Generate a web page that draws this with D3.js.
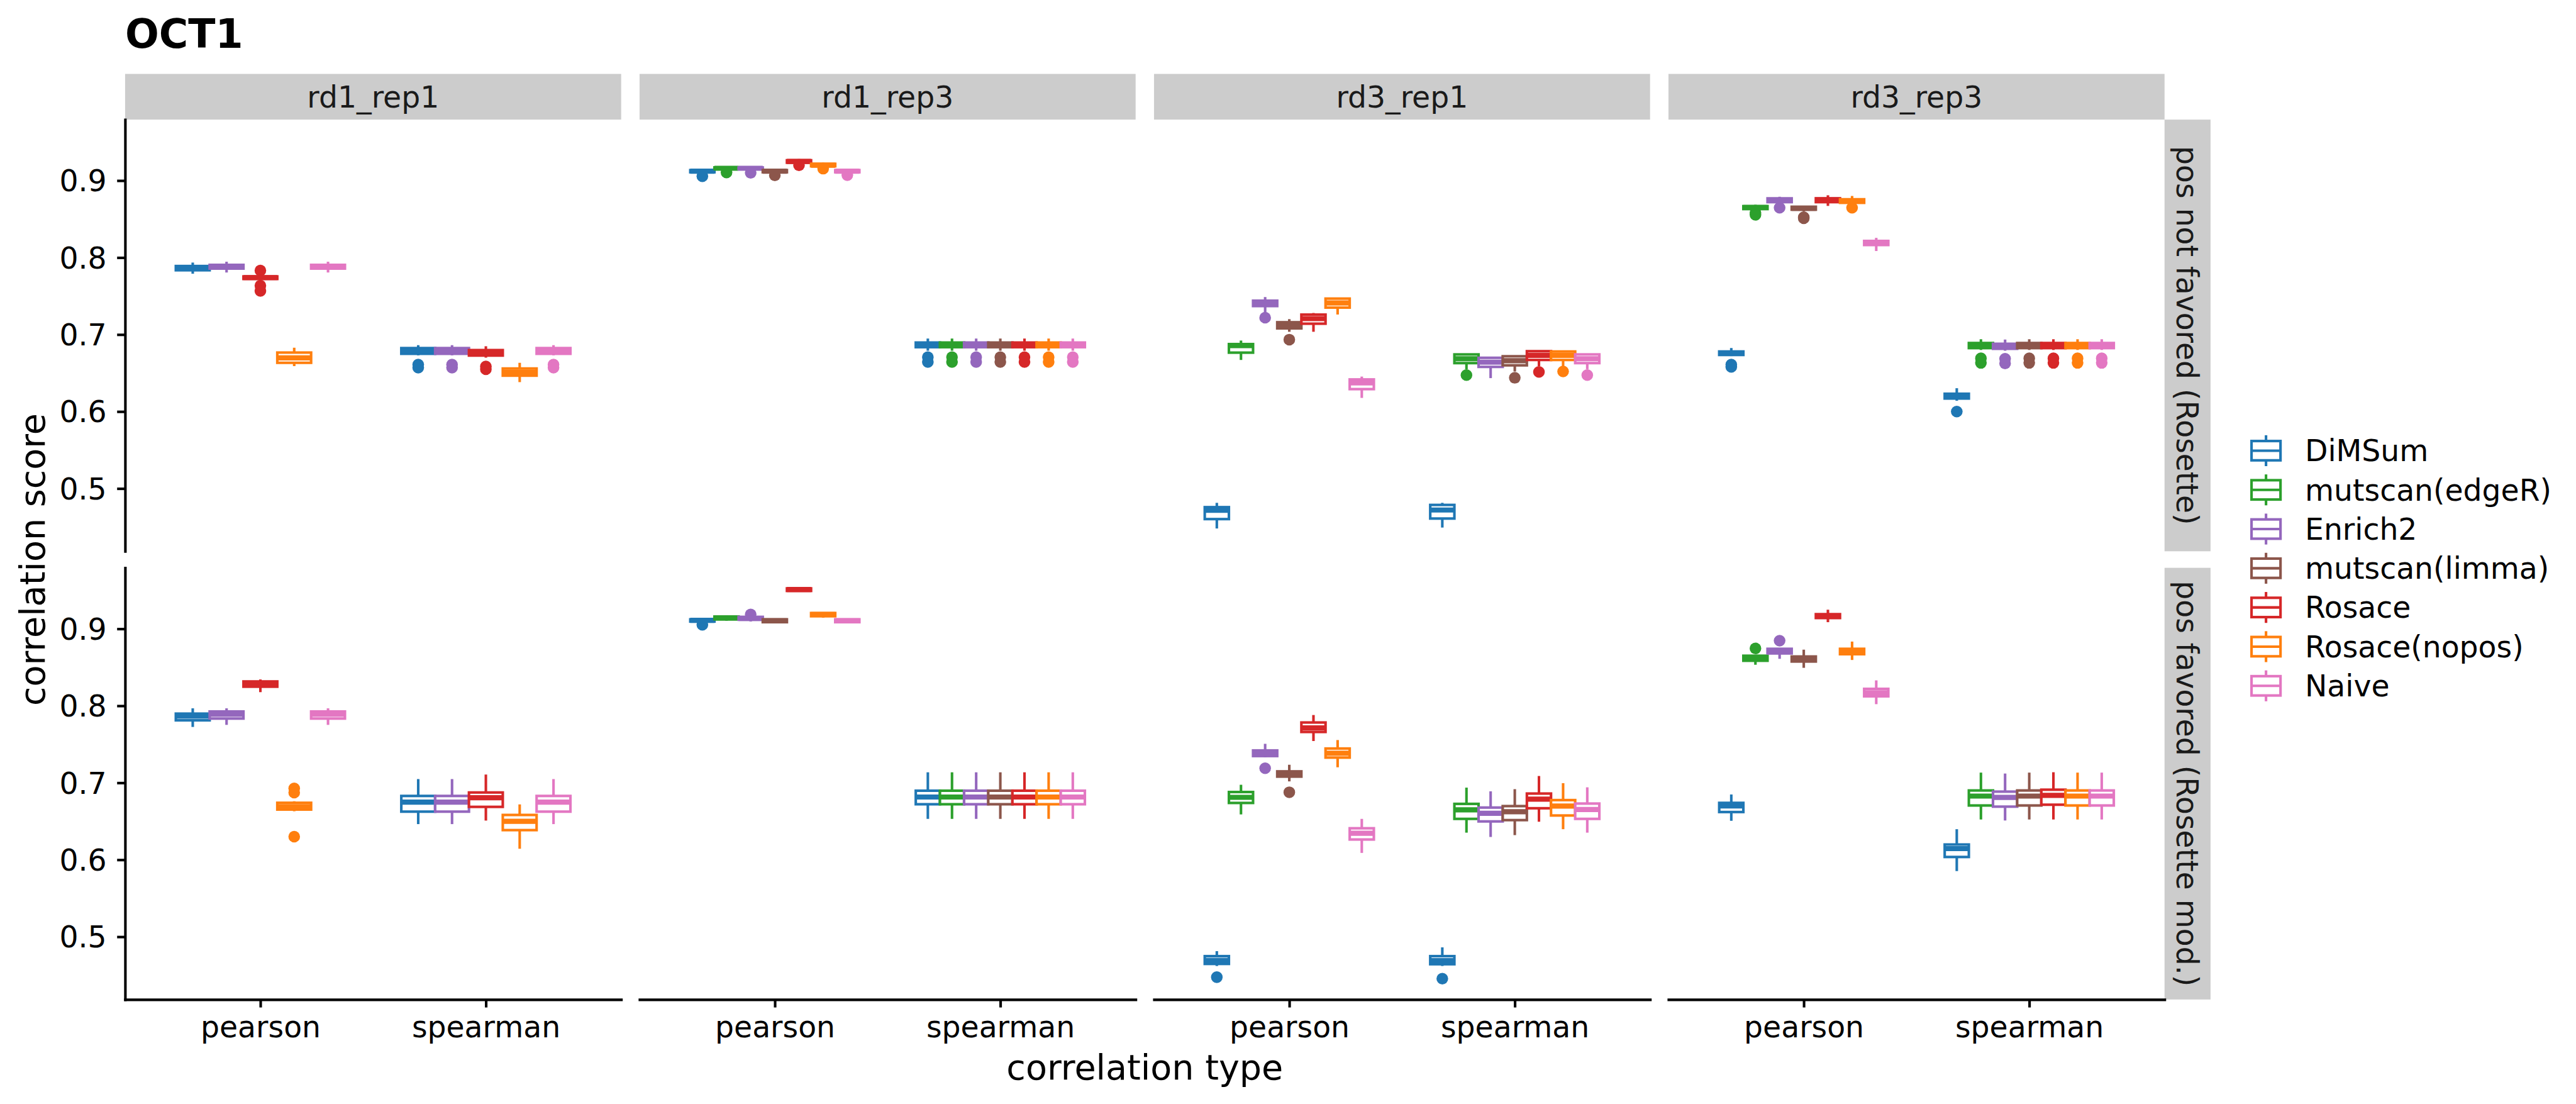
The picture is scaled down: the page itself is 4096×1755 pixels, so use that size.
<!DOCTYPE html>
<html>
<head>
<meta charset="utf-8">
<script src="https://cdn.jsdelivr.net/npm/d3@7"></script>
<style>
html,body{margin:0;padding:0;background:#ffffff;}
svg{display:block;}
</style>
</head>
<body>
<script>
// ---------------- DATA ----------------
const chartTitle = "OCT1";
const xAxisTitle = "correlation type";
const yAxisTitle = "correlation score";
const methods = ["DiMSum","mutscan(edgeR)","Enrich2","mutscan(limma)","Rosace","Rosace(nopos)","Naive"];
const methodColors = ["#1f77b4","#2ca02c","#9467bd","#8c564b","#d62728","#ff7f0e","#e377c2"];
const replicates = ["rd1_rep1","rd1_rep3","rd3_rep1","rd3_rep3"];
const scenarios = ["pos not favored (Rosette)","pos favored (Rosette mod.)"];
const corrTypes = ["pearson","spearman"];
const yTicks = [0.5,0.6,0.7,0.8,0.9];
const yLimits = [0.4185, 0.9792];

// rows: [correlation type, method, lower whisker, Q1, median, Q3, upper whisker, outliers]
const notFav_rd1_rep1 = [
  ["pearson","DiMSum",0.779,0.7835,0.786,0.789,0.7935,[]],
  ["pearson","Enrich2",0.7806,0.7857,0.788,0.7905,0.7946,[]],
  ["pearson","Rosace",0.769,0.7722,0.774,0.7755,0.778,[0.7832,0.7635,0.7567]],
  ["pearson","Rosace(nopos)",0.659,0.6633,0.6697,0.6766,0.6829,[]],
  ["pearson","Naive",0.7806,0.7857,0.788,0.7905,0.7946,[]],
  ["spearman","DiMSum",0.673,0.675,0.679,0.6824,0.6862,[0.661,0.657]],
  ["spearman","Enrich2",0.673,0.675,0.679,0.6824,0.6862,[0.661,0.657]],
  ["spearman","Rosace",0.670,0.6727,0.676,0.6798,0.6848,[0.6585,0.655]],
  ["spearman","Rosace(nopos)",0.6382,0.6466,0.651,0.6559,0.6633,[]],
  ["spearman","Naive",0.673,0.675,0.679,0.6824,0.6862,[0.661,0.657]]
];
const notFav_rd1_rep3 = [
  ["pearson","DiMSum",0.910,0.9108,0.9122,0.9136,0.9155,[0.9056]],
  ["pearson","mutscan(edgeR)",0.9135,0.915,0.916,0.9171,0.9185,[0.9105]],
  ["pearson","Enrich2",0.913,0.9148,0.916,0.917,0.918,[0.910]],
  ["pearson","mutscan(limma)",0.910,0.9108,0.9122,0.9136,0.915,[0.9068]],
  ["pearson","Rosace",0.922,0.9232,0.9248,0.9264,0.928,[0.9199]],
  ["pearson","Rosace(nopos)",0.9175,0.9186,0.920,0.9218,0.9232,[0.9155]],
  ["pearson","Naive",0.910,0.9108,0.9122,0.9136,0.915,[0.9071]],
  ["spearman","DiMSum",0.679,0.6836,0.687,0.6896,0.6948,[0.6706,0.6643]],
  ["spearman","mutscan(edgeR)",0.679,0.6836,0.687,0.6896,0.6948,[0.6706,0.6643]],
  ["spearman","Enrich2",0.679,0.6836,0.687,0.6896,0.6948,[0.6706,0.6643]],
  ["spearman","mutscan(limma)",0.679,0.6836,0.687,0.6896,0.6948,[0.6706,0.6643]],
  ["spearman","Rosace",0.679,0.6836,0.687,0.6896,0.6948,[0.6706,0.6643]],
  ["spearman","Rosace(nopos)",0.679,0.6836,0.687,0.6896,0.6948,[0.6706,0.6643]],
  ["spearman","Naive",0.679,0.6836,0.687,0.6896,0.6948,[0.6706,0.6643]]
];
const notFav_rd3_rep1 = [
  ["pearson","DiMSum",0.4481,0.4603,0.4717,0.4758,0.4814,[]],
  ["pearson","mutscan(edgeR)",0.667,0.6765,0.6857,0.6876,0.6922,[]],
  ["pearson","Enrich2",0.728,0.737,0.741,0.744,0.7487,[0.7219]],
  ["pearson","mutscan(limma)",0.7036,0.708,0.712,0.716,0.720,[0.6934]],
  ["pearson","Rosace",0.7036,0.7141,0.7207,0.7259,0.728,[]],
  ["pearson","Rosace(nopos)",0.726,0.735,0.741,0.7467,0.748,[]],
  ["pearson","Naive",0.6177,0.6291,0.6372,0.6417,0.6454,[]],
  ["spearman","DiMSum",0.4493,0.461,0.4721,0.4787,0.4814,[]],
  ["spearman","mutscan(edgeR)",0.6548,0.6629,0.6686,0.6742,0.675,[0.6474]],
  ["spearman","Enrich2",0.6434,0.658,0.6641,0.6698,0.6705,[]],
  ["spearman","mutscan(limma)",0.652,0.660,0.6661,0.6718,0.6725,[0.6438]],
  ["spearman","Rosace",0.6588,0.667,0.673,0.6784,0.679,[0.6515]],
  ["spearman","Rosace(nopos)",0.659,0.667,0.673,0.678,0.679,[0.652]],
  ["spearman","Naive",0.655,0.6629,0.6686,0.6742,0.675,[0.6474]]
];
const notFav_rd3_rep3 = [
  ["pearson","DiMSum",0.672,0.6735,0.676,0.678,0.6825,[0.661,0.658]],
  ["pearson","mutscan(edgeR)",0.8615,0.863,0.865,0.8668,0.8686,[0.8583,0.8556]],
  ["pearson","Enrich2",0.8695,0.872,0.8745,0.8769,0.879,[0.8647]],
  ["pearson","mutscan(limma)",0.860,0.8622,0.864,0.866,0.867,[0.8525,0.851]],
  ["pearson","Rosace",0.8671,0.872,0.8745,0.877,0.8809,[]],
  ["pearson","Rosace(nopos)",0.868,0.8711,0.8735,0.8757,0.880,[0.8647]],
  ["pearson","Naive",0.8085,0.8163,0.819,0.8216,0.8256,[]],
  ["spearman","DiMSum",0.614,0.6169,0.620,0.6231,0.6303,[0.600]],
  ["spearman","mutscan(edgeR)",0.680,0.6824,0.686,0.689,0.6939,[0.6691,0.6632]],
  ["spearman","Enrich2",0.679,0.6815,0.685,0.688,0.6935,[0.6685,0.6625]],
  ["spearman","mutscan(limma)",0.680,0.6824,0.686,0.689,0.6939,[0.6691,0.6632]],
  ["spearman","Rosace",0.680,0.6824,0.686,0.689,0.6939,[0.6691,0.6632]],
  ["spearman","Rosace(nopos)",0.680,0.6824,0.686,0.689,0.6939,[0.6691,0.6632]],
  ["spearman","Naive",0.680,0.6824,0.686,0.689,0.6939,[0.6691,0.6632]]
];
const fav_rd1_rep1 = [
  ["pearson","DiMSum",0.7725,0.7811,0.7866,0.7898,0.7967,[]],
  ["pearson","Enrich2",0.7752,0.7834,0.789,0.7926,0.7967,[]],
  ["pearson","Rosace",0.8177,0.8248,0.828,0.8316,0.8342,[]],
  ["pearson","Rosace(nopos)",0.663,0.6652,0.669,0.674,0.676,[0.6927,0.6872,0.630]],
  ["pearson","Naive",0.7752,0.7834,0.789,0.7926,0.7967,[]],
  ["spearman","DiMSum",0.6463,0.6625,0.6749,0.6829,0.7048,[]],
  ["spearman","Enrich2",0.6463,0.6625,0.6749,0.6829,0.7048,[]],
  ["spearman","Rosace",0.6509,0.6687,0.6806,0.6874,0.7107,[]],
  ["spearman","Rosace(nopos)",0.6143,0.6385,0.650,0.6582,0.6719,[]],
  ["spearman","Naive",0.6463,0.6625,0.6749,0.6829,0.7048,[]]
];
const fav_rd1_rep3 = [
  ["pearson","DiMSum",0.909,0.9094,0.911,0.9123,0.9135,[0.9052]],
  ["pearson","mutscan(edgeR)",0.9105,0.9123,0.914,0.9159,0.9175,[]],
  ["pearson","Enrich2",0.9095,0.9118,0.9135,0.9155,0.9165,[0.9187]],
  ["pearson","mutscan(limma)",0.908,0.9086,0.9105,0.9123,0.9135,[]],
  ["pearson","Rosace",0.9485,0.9492,0.951,0.9525,0.953,[]],
  ["pearson","Rosace(nopos)",0.9145,0.9163,0.9185,0.9205,0.9215,[]],
  ["pearson","Naive",0.908,0.9086,0.9105,0.9123,0.913,[]],
  ["spearman","DiMSum",0.6531,0.6721,0.6815,0.6897,0.7136,[]],
  ["spearman","mutscan(edgeR)",0.6531,0.6721,0.6815,0.6897,0.7136,[]],
  ["spearman","Enrich2",0.6531,0.6721,0.6815,0.6897,0.7136,[]],
  ["spearman","mutscan(limma)",0.6531,0.6721,0.6815,0.6897,0.7136,[]],
  ["spearman","Rosace",0.6531,0.6721,0.6815,0.6897,0.7136,[]],
  ["spearman","Rosace(nopos)",0.6531,0.6721,0.6815,0.6897,0.7136,[]],
  ["spearman","Naive",0.6531,0.6721,0.6815,0.6897,0.7136,[]]
];
const fav_rd3_rep1 = [
  ["pearson","DiMSum",0.462,0.4647,0.4691,0.4748,0.4813,[0.4475]],
  ["pearson","mutscan(edgeR)",0.6589,0.6738,0.6811,0.688,0.6974,[]],
  ["pearson","Enrich2",0.733,0.7347,0.738,0.742,0.7506,[0.7189]],
  ["pearson","mutscan(limma)",0.7018,0.708,0.711,0.7148,0.7234,[0.6877]],
  ["pearson","Rosace",0.7542,0.766,0.7713,0.7783,0.788,[]],
  ["pearson","Rosace(nopos)",0.7201,0.7327,0.7384,0.7445,0.7555,[]],
  ["pearson","Naive",0.6089,0.6263,0.6344,0.6409,0.6531,[]],
  ["spearman","DiMSum",0.462,0.4643,0.469,0.4748,0.4862,[0.4455]],
  ["spearman","mutscan(edgeR)",0.6352,0.6531,0.6649,0.6726,0.6937,[]],
  ["spearman","Enrich2",0.6296,0.6498,0.6604,0.6678,0.6889,[]],
  ["spearman","mutscan(limma)",0.632,0.6515,0.6624,0.6697,0.6917,[]],
  ["spearman","Rosace",0.6494,0.6669,0.6787,0.686,0.7088,[]],
  ["spearman","Rosace(nopos)",0.6397,0.6575,0.6697,0.6775,0.6995,[]],
  ["spearman","Naive",0.6352,0.6531,0.6653,0.673,0.6941,[]]
];
const fav_rd3_rep3 = [
  ["pearson","DiMSum",0.6506,0.662,0.670,0.6739,0.6848,[]],
  ["pearson","mutscan(edgeR)",0.8533,0.8585,0.862,0.865,0.866,[0.8745]],
  ["pearson","Enrich2",0.861,0.868,0.871,0.874,0.875,[0.8846]],
  ["pearson","mutscan(limma)",0.8493,0.8575,0.861,0.864,0.8729,[]],
  ["pearson","Rosace",0.9086,0.914,0.9165,0.919,0.9248,[]],
  ["pearson","Rosace(nopos)",0.8595,0.867,0.871,0.874,0.8834,[]],
  ["pearson","Naive",0.8021,0.8123,0.8168,0.822,0.833,[]],
  ["spearman","DiMSum",0.5853,0.6036,0.6145,0.6198,0.6397,[]],
  ["spearman","mutscan(edgeR)",0.6523,0.6705,0.6827,0.690,0.7132,[]],
  ["spearman","Enrich2",0.651,0.669,0.681,0.6885,0.712,[]],
  ["spearman","mutscan(limma)",0.6523,0.6705,0.6827,0.690,0.7132,[]],
  ["spearman","Rosace",0.6523,0.6715,0.6837,0.691,0.7137,[]],
  ["spearman","Rosace(nopos)",0.6523,0.6705,0.6827,0.690,0.7132,[]],
  ["spearman","Naive",0.6523,0.6705,0.6827,0.690,0.7132,[]]
];
const panelData = [
  [notFav_rd1_rep1, notFav_rd1_rep3, notFav_rd3_rep1, notFav_rd3_rep3],
  [fav_rd1_rep1, fav_rd1_rep3, fav_rd3_rep1, fav_rd3_rep3]
];

// ---------------- LAYOUT (reference pixels, scaled by S) ----------------
const S = 0.975;
const FONT = "'DejaVu Sans', Verdana, sans-serif";
const panelLeft = [204, 1043, 1882, 2721];
const panelW = 809;
const rowTop = [195, 925.8];
const rowH = 703.8;
const stripTop = 120.5, stripH = 74.5, stripRW = 75;
const LW = 4.2;           // line width
const PT_R = 9.5;         // outlier radius
const TXT = 48.5;         // small text size
const stripFill = "#cccccc";

const svg = d3.select("body").append("svg")
  .attr("width", 4096).attr("height", 1755)
  .attr("viewBox", "0 0 4096 1755");
svg.append("rect").attr("width", 4096).attr("height", 1755).attr("fill", "#ffffff");
const root = svg.append("g").attr("transform", `scale(${S})`);

const colorOf = d3.scaleOrdinal().domain(methods).range(methodColors);

// Title
root.append("text").attr("x", 204).attr("y", 77.5)
  .attr("font-family", FONT).attr("font-weight", "bold").attr("font-size", 65)
  .attr("fill", "#000").text(chartTitle);

// Top strips
replicates.forEach((rep, j) => {
  root.append("rect").attr("x", panelLeft[j]).attr("y", stripTop)
    .attr("width", panelW).attr("height", stripH).attr("fill", stripFill);
  root.append("text").attr("x", panelLeft[j] + panelW / 2).attr("y", 175.5)
    .attr("text-anchor", "middle").attr("font-family", FONT).attr("font-size", TXT)
    .attr("fill", "#1a1a1a").text(rep);
});

// Right strips
scenarios.forEach((sc, i) => {
  const xr = panelLeft[3] + panelW;
  root.append("rect").attr("x", xr).attr("y", rowTop[i])
    .attr("width", stripRW).attr("height", rowH).attr("fill", stripFill);
  const cx = xr + 19.5, cy = rowTop[i] + rowH / 2;
  root.append("text").attr("transform", `translate(${cx},${cy}) rotate(90)`)
    .attr("text-anchor", "middle").attr("font-family", FONT).attr("font-size", TXT)
    .attr("fill", "#1a1a1a").text(sc);
});

// Panels
scenarios.forEach((sc, i) => {
  replicates.forEach((rep, j) => {
    const L = panelLeft[j], T = rowTop[i];
    const rows = panelData[i][j];
    const x = d3.scaleLinear().domain([0.4, 2.6]).range([L, L + panelW]);
    const y = d3.scaleLinear().domain(yLimits).range([T + rowH, T]);
    const present = methods.filter(m => rows.some(r => r[1] === m));
    const n = present.length;
    const slot = 0.75 / n;
    const pg = root.append("g");

    rows.forEach(r => {
      const [ct, m, lw, q1, med, q3, uw, outs] = r;
      const col = colorOf(m);
      const ci = corrTypes.indexOf(ct) + 1;
      const k = present.indexOf(m);
      const c = ci - 0.375 + (k + 0.5) * slot;
      const x0 = x(c - slot / 2), x1 = x(c + slot / 2), xc = x(c);
      const bg = pg.append("g");
      // outliers
      bg.selectAll("circle").data(outs).join("circle")
        .attr("cx", xc).attr("cy", d => y(d)).attr("r", PT_R).attr("fill", col);
      // whiskers
      bg.append("line").attr("x1", xc).attr("x2", xc).attr("y1", y(uw)).attr("y2", y(q3))
        .attr("stroke", col).attr("stroke-width", LW);
      bg.append("line").attr("x1", xc).attr("x2", xc).attr("y1", y(q1)).attr("y2", y(lw))
        .attr("stroke", col).attr("stroke-width", LW);
      // box
      bg.append("rect").attr("x", x0).attr("y", y(q3))
        .attr("width", x1 - x0).attr("height", Math.max(0, y(q1) - y(q3)))
        .attr("fill", "#ffffff").attr("stroke", col).attr("stroke-width", LW);
      // median
      bg.append("line").attr("x1", x0).attr("x2", x1).attr("y1", y(med)).attr("y2", y(med))
        .attr("stroke", col).attr("stroke-width", LW * 2);
    });

    // y axis only on first column
    if (j === 0) {
      const ya = root.append("g").attr("transform", `translate(${L},0)`)
        .call(d3.axisLeft(y).tickValues(yTicks).tickFormat(d3.format(".1f"))
          .tickSize(13).tickSizeOuter(0).tickPadding(17));
      ya.select(".domain").attr("stroke", "#000").attr("stroke-width", LW).attr("stroke-linecap", "square");
      ya.selectAll(".tick line").attr("stroke", "#000").attr("stroke-width", LW);
      ya.selectAll(".tick text").attr("font-family", FONT).attr("font-size", TXT)
        .attr("fill", "#000").attr("dy", "0.355em");
    }
    // x axis only on bottom row
    if (i === scenarios.length - 1) {
      const xa = root.append("g").attr("transform", `translate(0,${T + rowH})`)
        .call(d3.axisBottom(x).tickValues([1, 2]).tickFormat(v => corrTypes[v - 1])
          .tickSize(13).tickSizeOuter(0).tickPadding(14.5));
      xa.select(".domain").attr("stroke", "#000").attr("stroke-width", LW).attr("stroke-linecap", "square");
      xa.selectAll(".tick line").attr("stroke", "#000").attr("stroke-width", LW);
      xa.selectAll(".tick text").attr("font-family", FONT).attr("font-size", TXT)
        .attr("fill", "#000");
    }
  });
});

// Axis titles
root.append("text")
  .attr("x", (panelLeft[0] + panelLeft[3] + panelW) / 2).attr("y", 1760)
  .attr("text-anchor", "middle").attr("font-family", FONT).attr("font-size", 57)
  .attr("fill", "#000").text(xAxisTitle);
root.append("text")
  .attr("transform", `translate(73,${(rowTop[0] + rowTop[1] + rowH) / 2}) rotate(-90)`)
  .attr("text-anchor", "middle").attr("font-family", FONT).attr("font-size", 57)
  .attr("fill", "#000").text(yAxisTitle);

// Legend
const K = 63, legCx = 3695.5, legCy0 = 734.8, legStep = 63.9, legTextX = 3759;
methods.forEach((m, i) => {
  const cy = legCy0 + i * legStep;
  const col = colorOf(m);
  const lg = root.append("g");
  lg.append("line").attr("x1", legCx).attr("x2", legCx)
    .attr("y1", cy - 0.4 * K).attr("y2", cy - 0.25 * K).attr("stroke", col).attr("stroke-width", LW);
  lg.append("line").attr("x1", legCx).attr("x2", legCx)
    .attr("y1", cy + 0.25 * K).attr("y2", cy + 0.4 * K).attr("stroke", col).attr("stroke-width", LW);
  lg.append("rect").attr("x", legCx - 0.375 * K).attr("y", cy - 0.25 * K)
    .attr("width", 0.75 * K).attr("height", 0.5 * K)
    .attr("fill", "#fff").attr("stroke", col).attr("stroke-width", LW);
  lg.append("line").attr("x1", legCx - 0.375 * K).attr("x2", legCx + 0.375 * K)
    .attr("y1", cy).attr("y2", cy).attr("stroke", col).attr("stroke-width", LW);
  lg.append("text").attr("x", legTextX).attr("y", cy).attr("dy", "0.355em")
    .attr("font-family", FONT).attr("font-size", TXT).attr("fill", "#000").text(m);
});
</script>
</body>
</html>
